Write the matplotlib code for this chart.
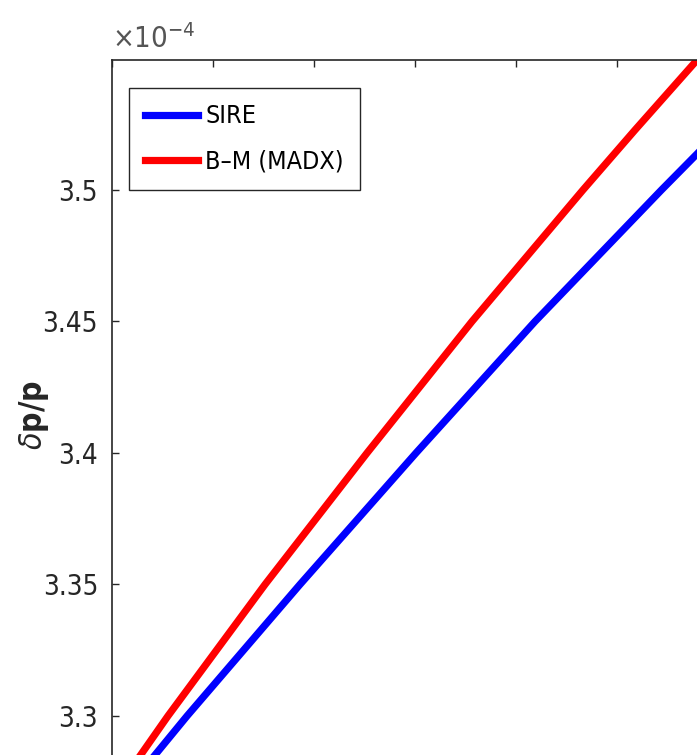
import matplotlib
matplotlib.use("Agg")
import matplotlib.pyplot as plt
from matplotlib.ticker import FuncFormatter, MultipleLocator

plt.rcParams['font.family'] = ['DejaVu Sans']
plt.rcParams['font.stretch'] = 'condensed'
plt.rcParams['mathtext.fontset'] = 'custom'
plt.rcParams['mathtext.rm'] = 'DejaVu Sans:stretch=condensed'
plt.rcParams['mathtext.it'] = 'DejaVu Sans:italic:stretch=condensed'
plt.rcParams['mathtext.bf'] = 'DejaVu Sans:bold:stretch=condensed'

# turn number along the ring (arbitrary units) and momentum deviation dp/p
sire_turn = [0.315, 0.465, 0.743, 1.861, 3.010, 4.188, 5.440, 5.792, 5.900]
sire_dpp = [3.280e-4, 3.287e-4, 3.300e-4, 3.350e-4, 3.400e-4, 3.450e-4, 3.500e-4, 3.5137e-4, 3.518e-4]

bm_turn = [0.190, 0.317, 0.554, 1.515, 2.525, 3.564, 4.663, 5.178, 5.792, 5.850]
bm_dpp = [3.280e-4, 3.287e-4, 3.300e-4, 3.350e-4, 3.400e-4, 3.450e-4, 3.500e-4, 3.5228e-4, 3.5494e-4, 3.552e-4]

dark = '#262626'

fig = plt.figure(figsize=(6.97, 7.55), dpi=100)
# zoomed-in view: the axes run past the right and bottom edges of the figure
ax = fig.add_axes([112 / 697, -0.0354, 606 / 697, 0.95596])

ax.plot(sire_turn, sire_dpp, color='#0000ff', lw=5.2, label='SIRE', solid_joinstyle='round')
ax.plot(bm_turn, bm_dpp, color='#ff0000', lw=5.2, label='B–M (MADX)', solid_joinstyle='round')

ax.set_xlim(0, 6)
ax.set_ylim(3.275e-4, 3.54943e-4)
ax.xaxis.set_major_locator(MultipleLocator(1))
ax.yaxis.set_major_locator(MultipleLocator(0.05e-4))
ax.yaxis.set_major_formatter(FuncFormatter(lambda v, p: f"{v * 1e4:g}"))
ax.tick_params(direction='in', length=5, width=1, color=dark, top=True, right=True,
               labelbottom=False, labelsize=20, labelcolor=dark, pad=10)
for s in ax.spines.values():
    s.set_color(dark)
    s.set_linewidth(1.2)

ax.text(0, 1.008, r'$\times10^{-4}$', transform=ax.transAxes, fontsize=21,
        color='#555555', ha='left', va='bottom')

ax.set_ylabel(r'$\delta$p/p', fontsize=23, fontweight='bold', color=dark)
ax.yaxis.set_label_coords(-0.101, 0.508)

leg = ax.legend(loc='upper left', bbox_to_anchor=(0.028, 0.961), borderaxespad=0,
                fontsize=18, fancybox=False, framealpha=1, edgecolor=dark,
                handlelength=2.1, handletextpad=0.3, labelspacing=0.85,
                borderpad=0.65)
leg.get_frame().set_linewidth(1.0)
for t in leg.get_texts():
    t.set_color('black')

fig.savefig('out.png', dpi=100)
